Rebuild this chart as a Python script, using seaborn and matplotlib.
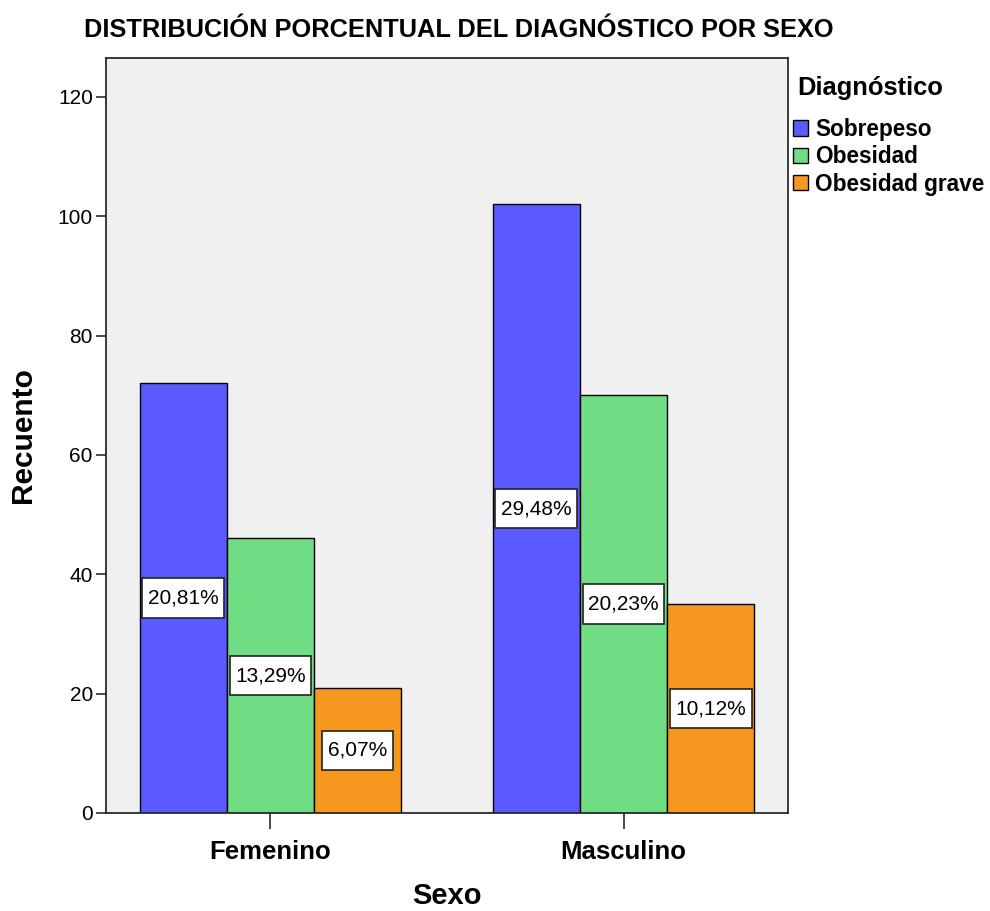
import numpy as np
import pandas as pd
import matplotlib
matplotlib.use("Agg")
import matplotlib.pyplot as plt
from matplotlib.path import Path
import seaborn as sns

# Recuento de pacientes por sexo y diagnóstico
sexos = ["Femenino", "Masculino"]
diagnosticos = ["Sobrepeso", "Obesidad", "Obesidad grave"]
sobrepeso = [72, 102]
obesidad = [46, 70]
obesidad_grave = [21, 35]
colores = ["#5a5aff", "#70dc84", "#f7981e"]
y_ticks = [0, 20, 40, 60, 80, 100, 120]

df = pd.DataFrame({
    "Sexo": sexos * 3,
    "Diagnóstico": np.repeat(diagnosticos, 2),
    "Recuento": sobrepeso + obesidad + obesidad_grave,
})
total = df["Recuento"].sum()


class CajaXY:
    """Caja rectangular con relleno horizontal y vertical distintos."""

    def __init__(self, padx=0.27, pady=0.49):
        self.padx, self.pady = padx, pady

    def __call__(self, x0, y0, width, height, mutation_size):
        px = self.padx * mutation_size
        py = self.pady * mutation_size
        x0, y0 = x0 - px, y0 - py
        x1, y1 = x0 + width + 2 * px, y0 + height + 2 * py
        return Path([(x0, y0), (x1, y0), (x1, y1), (x0, y1), (x0, y0)],
                    closed=True)


plt.rcParams["font.family"] = ["Liberation Sans", "DejaVu Sans"]
W, H = 990, 911
fig = plt.figure(figsize=(W / 100, H / 100), dpi=100)
ax = fig.add_axes([106 / W, 98 / H, 682 / W, 755 / H])

sns.barplot(data=df, x="Sexo", y="Recuento", hue="Diagnóstico",
            order=sexos, hue_order=diagnosticos, palette=colores,
            width=0.74, gap=0, saturation=1, edgecolor="black",
            linewidth=1.0, ax=ax)

ax.set_facecolor("#f0f0f0")
ax.set_xlim(-0.466, 1.466)
ax.set_ylim(0, 126.5)
ax.set_yticks(y_ticks)
for s in ax.spines.values():
    s.set_color("#2a2a2a")
    s.set_linewidth(1.3)

# Porcentaje sobre el total, centrado en cada barra
for cont in ax.containers:
    for bar in cont:
        h = bar.get_height()
        pct = f"{h / total * 100:.2f}%".replace(".", ",")
        ax.text(bar.get_x() + bar.get_width() / 2, h / 2, pct,
                ha="center", va="center", fontsize=15, color="black",
                bbox=dict(boxstyle=CajaXY(), fc="white",
                          ec="#222222", lw=1.2))

ax.tick_params(axis="y", length=7, width=1.2, labelsize=15, pad=2.5,
               color="#2a2a2a")
ax.tick_params(axis="x", length=11.5, width=1.2, labelsize=18.5, pad=8,
               color="#2a2a2a")
for lbl in ax.get_xticklabels():
    lbl.set_fontweight("bold")

ax.set_ylabel("Recuento", fontsize=21.5, fontweight="bold", labelpad=15)
ax.set_xlabel("Sexo", fontsize=21, fontweight="bold", labelpad=13)

handles, labels = ax.get_legend_handles_labels()
ax.get_legend().remove()
fig.text(797 / W, 1 - 88 / H, "Diagnóstico", ha="left", va="center",
         fontsize=18.4, fontweight="bold")
leg = fig.legend(handles, labels, loc="upper left",
                 bbox_to_anchor=(793 / W, 1 - 118 / H), frameon=False,
                 borderpad=0, borderaxespad=0, fontsize=16.3,
                 handlelength=0.68, handleheight=0.68,
                 handletextpad=0.3, labelspacing=0.19)
for t in leg.get_texts():
    t.set_fontweight("bold")

fig.text(459 / W, 1 - 30 / H, "DISTRIBUCIÓN PORCENTUAL DEL DIAGNÓSTICO POR SEXO",
         ha="center", va="center", fontsize=18.3, fontweight="bold")

fig.savefig("out.png", dpi=100, facecolor="white")
